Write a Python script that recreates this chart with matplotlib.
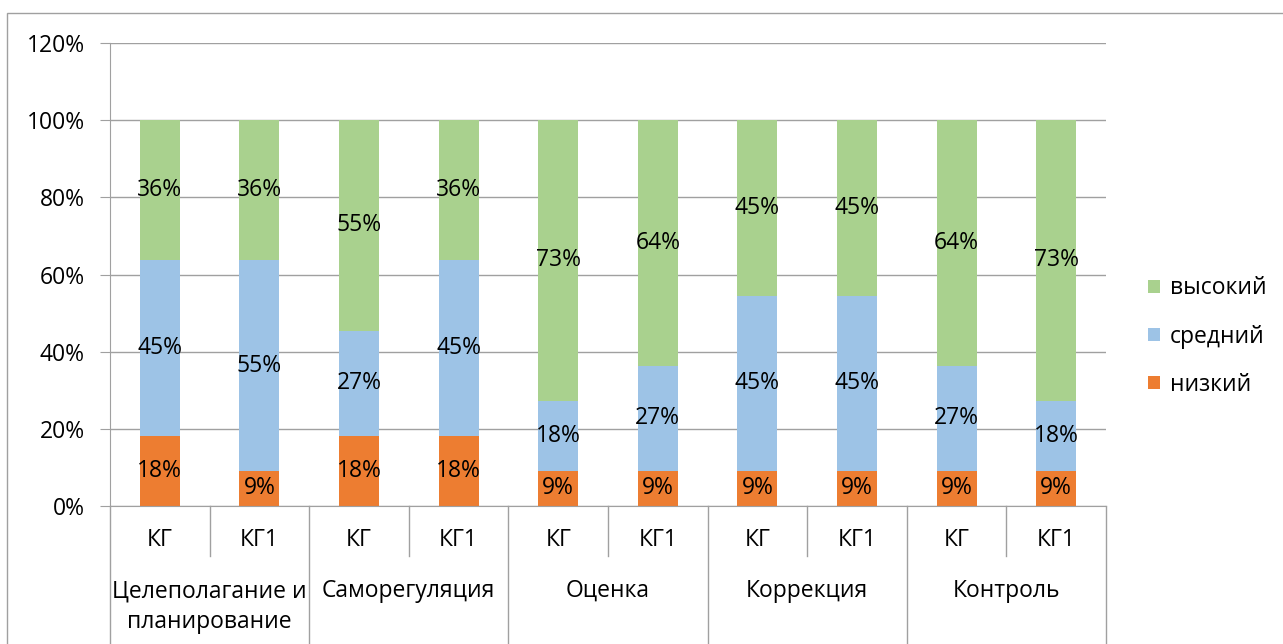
import matplotlib.pyplot as plt
import matplotlib.patches as mpatches
from matplotlib.lines import Line2D

plt.rcParams['font.family'] = ['Open Sans', 'DejaVu Sans']

groups = ['Целеполагание и\nпланирование', 'Саморегуляция', 'Оценка', 'Коррекция', 'Контроль']
subs = ['КГ', 'КГ1']
low = [18.18, 9.09, 18.18, 18.18, 9.09, 9.09, 9.09, 9.09, 9.09, 9.09]
mid = [45.45, 54.55, 27.27, 45.45, 18.18, 27.27, 45.45, 45.45, 27.27, 18.18]
high = [36.36, 36.36, 54.55, 36.36, 72.73, 63.64, 45.45, 45.45, 63.64, 72.73]
series = ['низкий', 'средний', 'высокий']
colors = ['#ED7D31', '#9DC3E6', '#A9D18E']

W, H = 1283, 644
fs = 16.5
fig = plt.figure(figsize=(W / 100, H / 100), dpi=100)
ax = fig.add_axes([110 / W, 1 - 506 / H, (1106 - 110) / W, (506 - 43) / H])

x = list(range(len(low)))
bottom = [0] * len(low)
handles = []
for vals, col, name in zip([low, mid, high], colors, series):
    bars = ax.bar(x, vals, 0.4, bottom=bottom, color=col, label=name, zorder=2)
    for xi, b, v in zip(x, bottom, vals):
        ax.text(xi, b + v / 2, '%d%%' % round(v), ha='center', va='center', fontsize=fs, zorder=3)
    bottom = [b + v for b, v in zip(bottom, vals)]
    handles.append(bars)

ax.set_xlim(-0.5, len(low) - 0.5)
ax.set_ylim(0, 120)
ax.set_yticks(range(0, 121, 20))
ax.set_yticklabels(['%d%%' % t for t in range(0, 121, 20)], fontsize=fs)
ax.yaxis.grid(True, color='#A0A0A0', linewidth=1, zorder=0)
ax.tick_params(axis='y', length=7, color='#A0A0A0', pad=11)
ax.set_xticks([])
for s in ['top', 'right']:
    ax.spines[s].set_visible(False)
ax.spines['left'].set_color('#A0A0A0')
ax.spines['bottom'].set_color('#A0A0A0')

# category labels below the axis
trans = ax.get_xaxis_transform()
px = 1 / (506 - 43)
for i in x:
    ax.text(i, -34 * px, subs[i % 2], ha='center', va='center', fontsize=fs, transform=trans)
    if i % 2 == 0:
        ax.add_line(Line2D([i + 0.5, i + 0.5], [0, -50 * px], color='#A0A0A0', lw=1,
                           transform=trans, clip_on=False))
for g, name in enumerate(groups):
    ax.text(2 * g + 0.5, -73 * px, name, ha='center', va='top', fontsize=fs,
            linespacing=1.4, transform=trans)
for g in range(len(groups) + 1):
    ax.add_line(Line2D([2 * g - 0.5, 2 * g - 0.5], [0, -140 * px], color='#A0A0A0', lw=1,
                       transform=trans, clip_on=False))

ax.legend(handles[::-1], series[::-1], loc='center left', bbox_to_anchor=(1.042, 0.366),
          frameon=False, fontsize=fs, handlelength=0.52, handleheight=0.52,
          handletextpad=0.43, labelspacing=1.05, borderpad=0, borderaxespad=0)

fig.patches.append(mpatches.Rectangle((7 / W, -0.1), 1.2, 1 - 13 / H + 0.1, transform=fig.transFigure,
                                      fill=False, edgecolor='#A0A0A0', lw=1))

fig.savefig('out.png', dpi=100)
